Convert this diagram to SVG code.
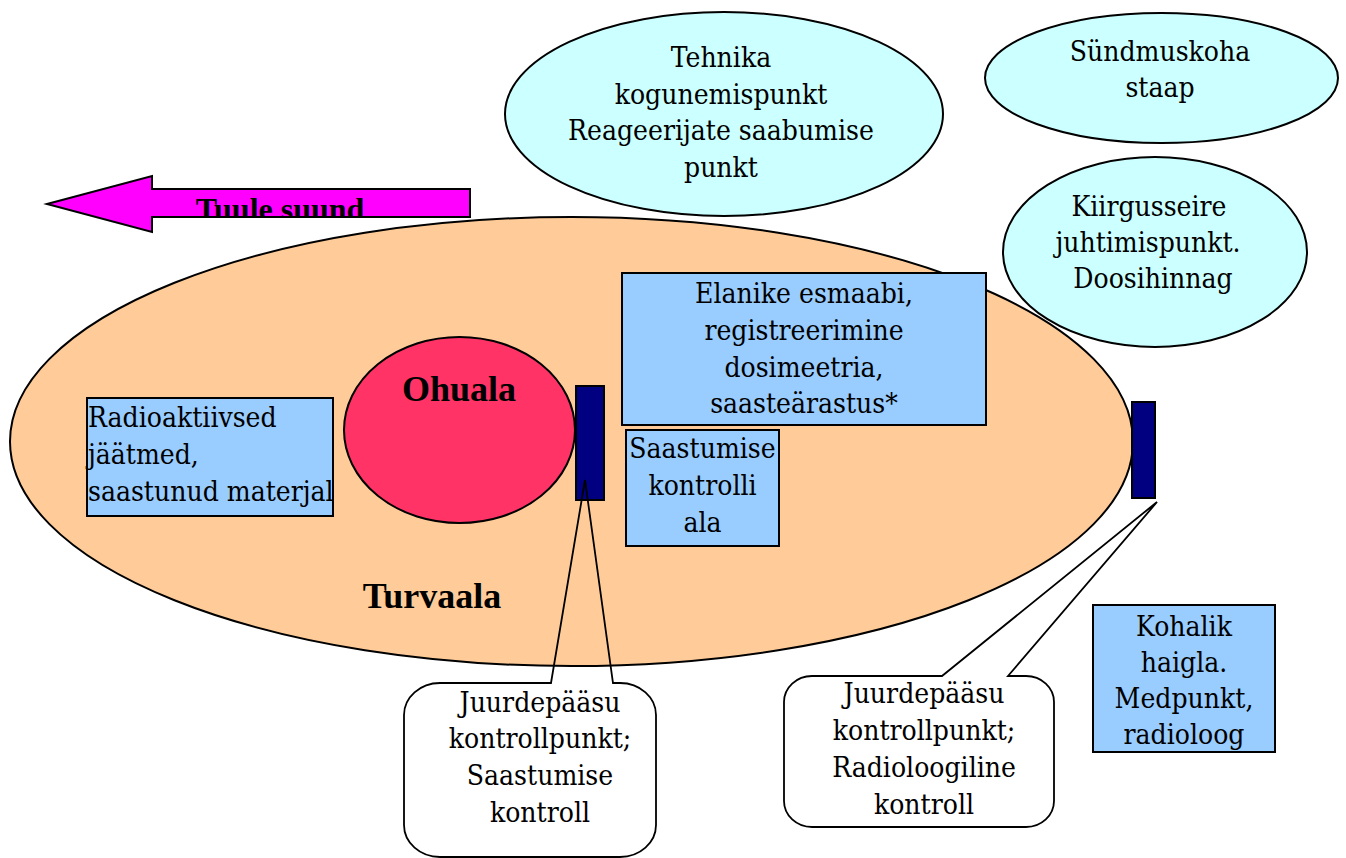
<svg xmlns="http://www.w3.org/2000/svg" width="1346" height="858" viewBox="0 0 1346 858">
<defs>
<style>
.t{font-family:"DejaVu Serif Condensed","DejaVu Serif",serif;font-stretch:condensed;font-size:28px;fill:#000;text-anchor:middle}
.l{text-anchor:start}
.b{font-family:"Liberation Serif",serif;font-stretch:normal;font-weight:bold;font-size:36px}
.s{stroke:#000;stroke-width:2}
.cyan{fill:#CCFFFF}
.blue{fill:#99CCFF}
.navy{fill:#000080}
.co{fill:none;stroke:#000;stroke-width:1.8}
</style>
<clipPath id="arrowClip"><rect x="150" y="180" width="322" height="37"/></clipPath>
</defs>
<rect width="1346" height="858" fill="#fff"/>

<g id="turvaala">
<ellipse class="s" cx="571.5" cy="441.5" rx="561.5" ry="224.5" fill="#FFCC99"/>
<text class="t b" x="432" y="608">Turvaala</text>
</g>

<g id="tehnika">
<ellipse class="s cyan" cx="724" cy="114" rx="219" ry="102"/>
<text class="t" x="721" y="67">Tehnika</text>
<text class="t" x="721" y="104">kogunemispunkt</text>
<text class="t" x="721" y="140">Reageerijate saabumise</text>
<text class="t" x="721" y="177">punkt</text>
</g>

<g id="syndmuskoha">
<ellipse class="s cyan" cx="1161.5" cy="78" rx="176.5" ry="65"/>
<text class="t" x="1160" y="61">Sündmuskoha</text>
<text class="t" x="1160" y="97">staap</text>
</g>

<g id="tuule">
<path class="s" fill="#FF00FF" d="M47,204 L152,176 L152,189 L470,189 L470,217 L152,217 L152,232 Z"/>
<text class="t b" clip-path="url(#arrowClip)" x="280" y="220" style="font-size:32px">Tuule suund</text>
</g>

<g id="radioaktiivsed">
<rect class="s blue" x="87" y="398" width="246" height="118"/>
<text class="t l" x="88" y="427">Radioaktiivsed</text>
<text class="t l" x="88" y="464">jäätmed,</text>
<text class="t l" x="88" y="501">saastunud materjal</text>
</g>

<g id="ohuala">
<ellipse class="s" cx="459.5" cy="430" rx="115.5" ry="93" fill="#FF3366"/>
<text class="t b" x="459" y="401">Ohuala</text>
</g>

<g id="bar1">
<rect class="s navy" x="576" y="386" width="28" height="114"/>
</g>

<g id="elanike">
<rect class="s blue" x="622" y="273" width="364" height="152"/>
<text class="t" x="804" y="303">Elanike esmaabi,</text>
<text class="t" x="804" y="340">registreerimine</text>
<text class="t" x="804" y="377">dosimeetria,</text>
<text class="t" x="804" y="413">saasteärastus*</text>
</g>

<g id="saastumise">
<rect class="s blue" x="626" y="430" width="153" height="116"/>
<text class="t" x="702.5" y="458">Saastumise</text>
<text class="t" x="702.5" y="495">kontrolli</text>
<text class="t" x="702.5" y="532">ala</text>
</g>

<g id="kiirgusseire">
<ellipse class="s cyan" cx="1155" cy="252" rx="152" ry="95"/>
<text class="t" x="1149" y="216">Kiirgusseire</text>
<text class="t" x="1148" y="252">juhtimispunkt.</text>
<text class="t" x="1153" y="288">Doosihinnag</text>
</g>

<g id="bar2">
<rect class="s navy" x="1132" y="402" width="23" height="96"/>
</g>

<g id="kohalik">
<rect class="s blue" x="1093" y="605" width="182" height="147"/>
<text class="t" x="1184" y="636">Kohalik</text>
<text class="t" x="1184" y="672">haigla.</text>
<text class="t" x="1184" y="708">Medpunkt,</text>
<text class="t" x="1184" y="744">radioloog</text>
</g>

<g id="callout1">
<path class="co" d="M440,683 L551,683 L585,480 L613,683 L620,683 A36,32 0 0 1 656,715 L656,825 A36,32 0 0 1 620,857 L440,857 A36,32 0 0 1 404,825 L404,715 A36,32 0 0 1 440,683 Z"/>
<text class="t" x="540" y="712">Juurdepääsu</text>
<text class="t" x="540" y="748">kontrollpunkt;</text>
<text class="t" x="540" y="785">Saastumise</text>
<text class="t" x="540" y="822">kontroll</text>
</g>

<g id="callout2">
<path class="co" d="M812,676 L942,676 L1157,502 L1008,676 L1026,676 A28,26 0 0 1 1054,702 L1054,801 A28,26 0 0 1 1026,827 L812,827 A28,26 0 0 1 784,801 L784,702 A28,26 0 0 1 812,676 Z"/>
<text class="t" x="924" y="703">Juurdepääsu</text>
<text class="t" x="924" y="740">kontrollpunkt;</text>
<text class="t" x="924" y="777">Radioloogiline</text>
<text class="t" x="924" y="814">kontroll</text>
</g>
</svg>
